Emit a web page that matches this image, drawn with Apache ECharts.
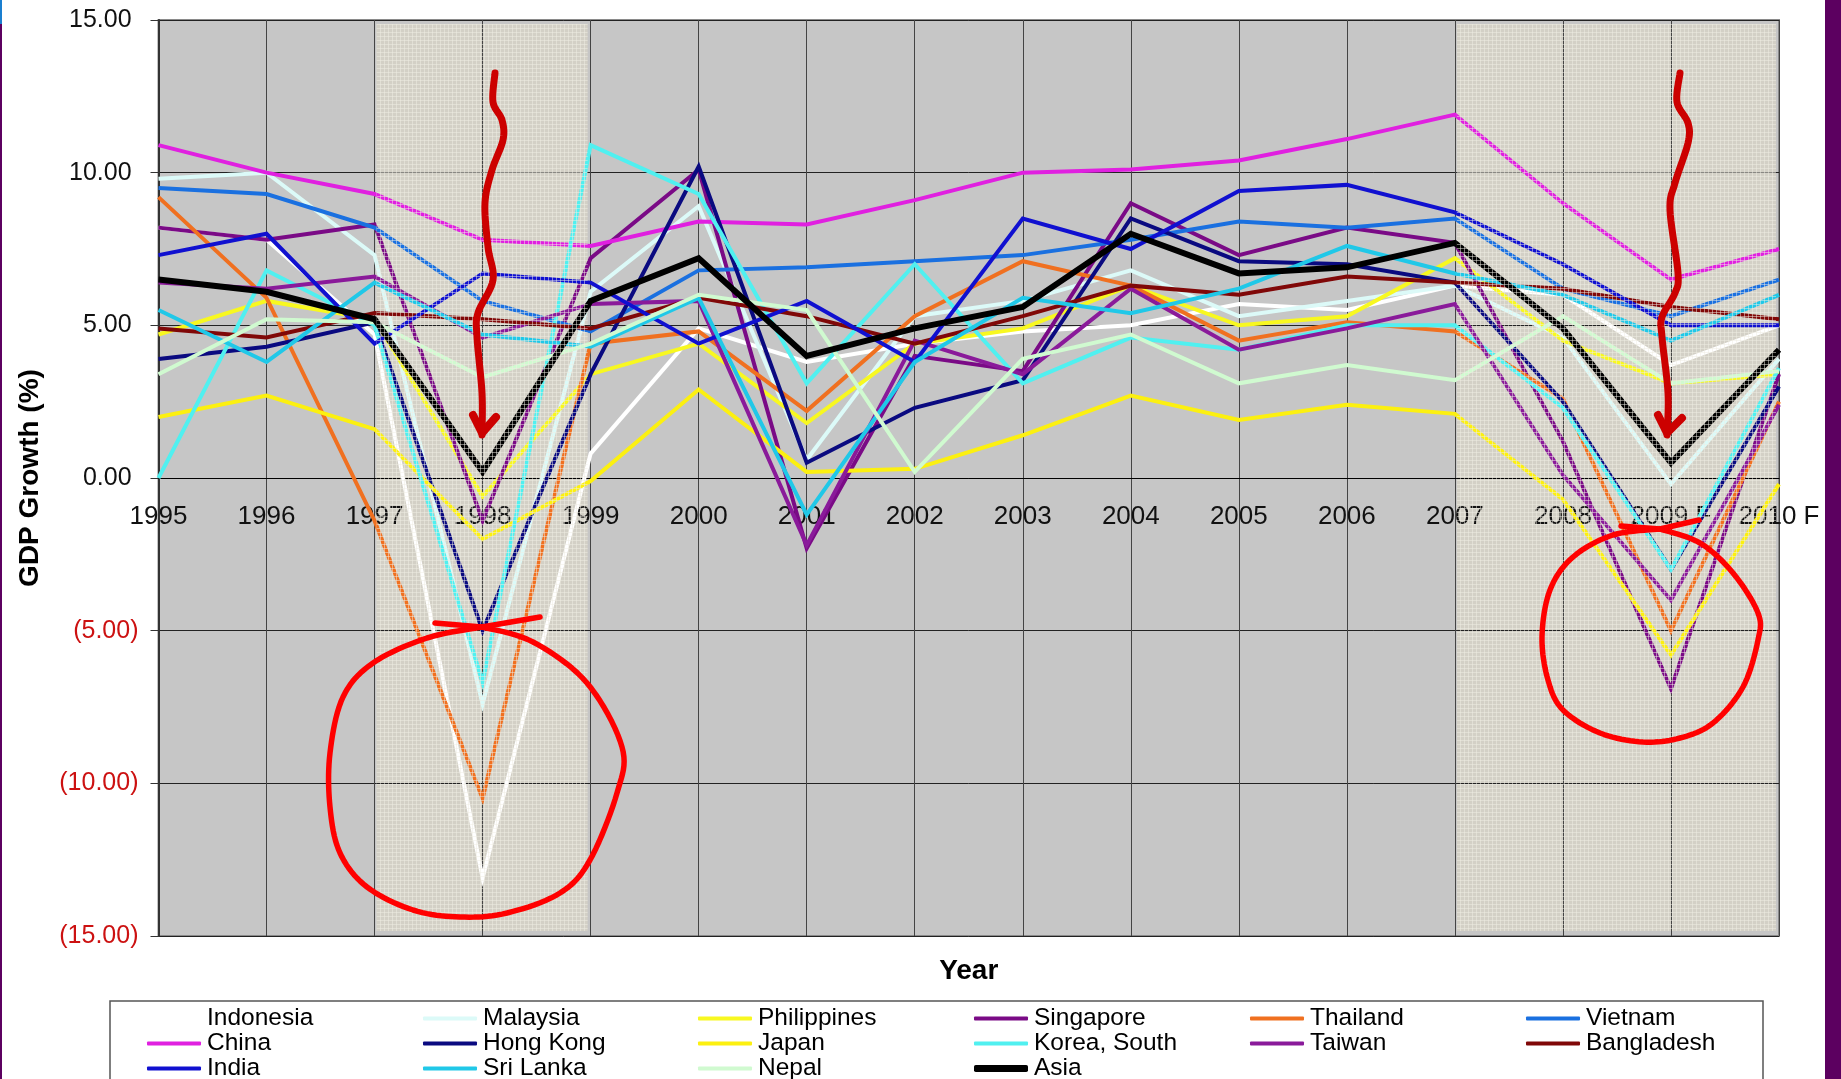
<!DOCTYPE html>
<html>
<head>
<meta charset="utf-8">
<title>GDP Growth</title>
<style>
html, body { margin: 0; padding: 0; background: #fff; overflow: hidden; }
#chart { width: 1841px; height: 1079px; }
</style>
<script src="https://cdn.jsdelivr.net/npm/echarts@6/dist/echarts.min.js"></script>
</head>
<body>
<div id="chart"></div>
<script>
var years = ['1995','1996','1997','1998','1999','2000','2001','2002','2003','2004','2005','2006','2007','2008','2009 F','2010 F'];

var indonesia   = [8.2, 7.8, 4.7, -13.1, 0.8, 4.9, 3.8, 4.4, 4.8, 5.0, 5.7, 5.5, 6.3, 6.0, 3.7, 5.0];
var malaysia    = [9.8, 10.0, 7.3, -7.4, 6.1, 8.9, 0.6, 5.3, 5.8, 6.8, 5.3, 5.8, 6.3, 4.6, -0.2, 3.9];
var philippines = [4.7, 5.8, 5.2, -0.6, 3.4, 4.4, 1.8, 4.4, 4.9, 6.3, 5.0, 5.3, 7.2, 4.5, 3.1, 3.4];
var singapore   = [8.2, 7.8, 8.3, -1.4, 7.2, 10.1, -2.3, 4.0, 3.5, 9.0, 7.3, 8.2, 7.7, 1.2, -6.9, 3.4];
var thailand    = [9.2, 5.9, -1.4, -10.5, 4.4, 4.8, 2.2, 5.3, 7.1, 6.3, 4.5, 5.1, 4.8, 2.6, -5.0, 2.5];
var vietnam     = [9.5, 9.3, 8.2, 5.8, 4.8, 6.8, 6.9, 7.1, 7.3, 7.8, 8.4, 8.2, 8.5, 6.2, 5.3, 6.5];
var china       = [10.9, 10.0, 9.3, 7.8, 7.6, 8.4, 8.3, 9.1, 10.0, 10.1, 10.4, 11.1, 11.9, 9.0, 6.5, 7.5];
var hongKong    = [3.9, 4.3, 5.1, -5.0, 3.4, 10.2, 0.5, 2.3, 3.2, 8.5, 7.1, 7.0, 6.4, 2.5, -3.0, 3.0];
var japan       = [2.0, 2.7, 1.6, -2.0, -0.1, 2.9, 0.2, 0.3, 1.4, 2.7, 1.9, 2.4, 2.1, -0.7, -5.8, -0.2];
var korea       = [0.0, 6.8, 5.0, -6.7, 10.9, 9.3, 3.1, 7.0, 3.1, 4.6, 4.2, 5.0, 5.0, 2.3, -3.0, 3.6];
var taiwan      = [6.4, 6.2, 6.6, 4.6, 5.7, 5.8, -2.2, 4.5, 3.4, 6.2, 4.2, 4.9, 5.7, 0.1, -4.0, 2.4];
var bangladesh  = [4.9, 4.6, 5.4, 5.2, 4.9, 5.9, 5.3, 4.4, 5.3, 6.3, 6.0, 6.6, 6.4, 6.2, 5.6, 5.2];
var india       = [7.3, 8.0, 4.4, 6.7, 6.4, 4.4, 5.8, 3.8, 8.5, 7.5, 9.4, 9.6, 8.7, 7.0, 5.0, 5.0];
var sriLanka    = [5.5, 3.8, 6.4, 4.7, 4.3, 5.9, -1.2, 3.8, 5.9, 5.4, 6.2, 7.6, 6.7, 6.0, 4.5, 6.0];
var nepal       = [3.4, 5.2, 5.1, 3.3, 4.4, 6.0, 5.5, 0.2, 3.9, 4.7, 3.1, 3.7, 3.2, 5.3, 3.1, 3.5];
var asia        = [6.5, 6.1, 5.2, 0.2, 5.8, 7.2, 4.0, 4.9, 5.6, 8.0, 6.7, 6.9, 7.7, 4.9, 0.5, 4.2];

var crisisYears = [['1997','1999'], ['2007','2010 F']];

// 图例按列排列，和原图一样
var legendColumns = [
	['Indonesia','China','India'],
	['Malaysia','Hong Kong','Sri Lanka'],
	['Philippines','Japan','Nepal'],
	['Singapore','Korea, South'],
	['Thailand','Taiwan'],
	['Vietnam','Bangladesh']
];
var legendLefts = [147, 423, 698, 974, 1250, 1526];

var FONT = '"Liberation Sans", Arial, sans-serif';

function lineSeries(name, data, color, width) {
	return {
		name : name,
		type : 'line',
		data : data,
		z : 2,
		symbol : 'none',
		smooth : false,
		lineStyle : { color : color, width : width || 4, join : 'miter' },
		itemStyle : { color : color }
	};
}

//危机年份的网点，半透明盖在折线上面
function bandPattern() {
	var c = document.createElement('canvas');
	c.width = 4;
	c.height = 4;
	var ctx = c.getContext('2d');
	ctx.fillStyle = 'rgba(240,238,228,0.5)';
	ctx.fillRect(0, 0, 4, 1);
	ctx.fillRect(0, 0, 1, 4);
	return { image : c, repeat : 'repeat' };
}

//底色一层放折线下面，网点一层放折线上面
function bandSeries(fill, z) {
	return {
		type : 'custom',
		z : z,
		silent : true,
		data : crisisYears,
		encode : { x : [0, 1] },
		renderItem : function(params, api) {
			var start = api.coord([api.value(0), 15]);
			var end = api.coord([api.value(1), -15]);
			return {
				type : 'rect',
				shape : {
					x : start[0] + 2,
					y : start[1] + 4,
					width : end[0] - start[0] - 5,
					height : end[1] - start[1] - 9
				},
				style : { fill : fill }
			};
		}
	};
}

//把手画标记的折点连成平滑曲线
function smoothPath(points) {
	var path = [];
	for (var i = 0; i < points.length - 1; i++) {
		var p0 = points[Math.max(i - 1, 0)];
		var p1 = points[i];
		var p2 = points[i + 1];
		var p3 = points[Math.min(i + 2, points.length - 1)];
		for (var t = 0; t < 1; t += 0.1) {
			var t2 = t * t;
			var t3 = t2 * t;
			path.push([
				0.5 * (2 * p1[0] + (p2[0] - p0[0]) * t + (2 * p0[0] - 5 * p1[0] + 4 * p2[0] - p3[0]) * t2 + (3 * p1[0] - p0[0] - 3 * p2[0] + p3[0]) * t3),
				0.5 * (2 * p1[1] + (p2[1] - p0[1]) * t + (2 * p0[1] - 5 * p1[1] + 4 * p2[1] - p3[1]) * t2 + (3 * p1[1] - p0[1] - 3 * p2[1] + p3[1]) * t3)
			]);
		}
	}
	path.push(points[points.length - 1]);
	return path;
}

//手画的红色标记
function redLine(points, width, color) {
	return {
		type : 'polyline',
		z : 100,
		silent : true,
		shape : { points : points },
		style : { stroke : color, lineWidth : width, fill : null, lineCap : 'round', lineJoin : 'round' }
	};
}

function annotations() {
	var arrowRed = '#cc0000';
	var ringRed = '#ff0000';
	return [
		redLine(smoothPath([[495,73],[493,102],[502,120],[503,140],[492,170],[485,203],[488,247],[493,280],[478,313],[477,337],[482,393],[482,435]]), 7, arrowRed),
		redLine([[473,415],[482,433],[496,417]], 8, arrowRed),
		redLine(smoothPath([[1680,73],[1677,102],[1688,123],[1688,143],[1675,183],[1670,210],[1678,273],[1675,293],[1662,317],[1662,337],[1668,393],[1667,435]]), 7, arrowRed),
		redLine([[1658,415],[1667,433],[1682,418]], 8, arrowRed),
		redLine(smoothPath([[482,627],[533,642],[587,683],[622,747],[617,793],[590,860],[560,893],[507,913],[460,917],[413,910],[367,887],[340,853],[330,807],[330,753],[343,697],[373,663],[427,638],[482,627]]), 5.5, ringRed),
		redLine([[435,623],[482,627],[540,617]], 5.5, ringRed),
		redLine(smoothPath([[1660,529],[1700,543],[1733,573],[1758,613],[1758,640],[1743,687],[1713,723],[1680,738],[1643,742],[1600,733],[1563,710],[1548,680],[1542,637],[1550,590],[1573,557],[1613,535],[1660,529]]), 5.5, ringRed),
		redLine([[1621,526],[1660,529],[1699,520]], 5.5, ringRed)
	];
}

function slideFrame() {
	return [
		{ type : 'rect', z : 0, shape : { x : 0, y : 0, width : 2, height : 1079 }, style : { fill : '#5c0060' } },
		{ type : 'rect', z : 0, shape : { x : 0, y : 0, width : 2, height : 24 }, style : { fill : '#1a7fd0' } },
		{ type : 'rect', z : 0, shape : { x : 1825, y : 0, width : 16, height : 1079 }, style : { fill : '#5c0060' } },
		{ type : 'rect', z : 0, shape : { x : 110, y : 1001, width : 1653, height : 90 }, style : { fill : 'none', stroke : '#555', lineWidth : 1.5 } }
	];
}

function legendColumn(names, left, top, markHeight) {
	return {
		orient : 'vertical',
		left : left,
		top : top,
		height : 200,
		padding : 0,
		itemGap : 0,
		itemWidth : 54,
		itemHeight : markHeight,
		icon : 'roundRect',
		data : names,
		selectedMode : false,
		textStyle : { fontFamily : FONT, fontSize : 24.5, lineHeight : 24, color : '#000', padding : [0, 0, 0, 1] }
	};
}

function buildLegends() {
	var legends = [];
	for (var i = 0; i < legendColumns.length; i++) {
		legends.push(legendColumn(legendColumns[i], legendLefts[i], 1006, 4));
	}
	//Asia的线更粗，单独一个图例
	legends.push(legendColumn(['Asia'], legendLefts[3], 1056, 7));
	return legends;
}

var chart = echarts.init(document.getElementById('chart'));
var option = {
	animation : false,
	backgroundColor : '#fff',
	grid : {
		left : 158.5,
		right : 62,
		top : 20,
		bottom : 143,
		outerBoundsMode : 'none',
		show : true,
		backgroundColor : '#c6c6c6',
		borderColor : '#8a8a8a',
		borderWidth : 2
	},
	legend : buildLegends(),
	xAxis : {
		type : 'category',
		data : years,
		boundaryGap : false,
		z : 1,
		//轴放在0.00那条线上，标签跟着轴走
		offset : -458,
		name : 'Year',
		nameLocation : 'middle',
		nameGap : 479,
		nameTextStyle : { fontFamily : FONT, fontSize : 28, fontWeight : 'bold', color : '#000' },
		axisLine : { onZero : false, lineStyle : { color : '#000', width : 1 } },
		axisTick : { show : false },
		axisLabel : { interval : 0, margin : 26, fontFamily : FONT, fontSize : 26, color : '#111' },
		splitLine : { show : true, interval : 0, lineStyle : { color : '#444', width : 1 } }
	},
	yAxis : {
		type : 'value',
		min : -15,
		max : 15,
		interval : 5,
		z : 1,
		name : 'GDP Growth (%)',
		nameLocation : 'middle',
		nameGap : 114,
		nameTextStyle : { fontFamily : FONT, fontSize : 28, fontWeight : 'bold', color : '#000' },
		axisLine : { show : true, lineStyle : { color : '#333', width : 2 } },
		axisTick : { show : true, length : 8, lineStyle : { color : '#333' } },
		axisLabel : {
			margin : 20,
			fontFamily : FONT,
			fontSize : 25,
			color : function(value) {
				return value < 0 ? '#cc1111' : '#111';
			},
			formatter : function(value) {
				var text = Math.abs(value).toFixed(2);
				return value < 0 ? '(' + text + ')' : text + '\u00a0';
			}
		},
		splitLine : { show : true, lineStyle : { color : '#222', width : 1 } }
	},
	series : [
		bandSeries('#d3d0c6', 0.5),
		lineSeries('Indonesia', indonesia, '#ffffff'),
		lineSeries('Malaysia', malaysia, '#dcfaf8'),
		lineSeries('Philippines', philippines, '#f8f820'),
		lineSeries('Singapore', singapore, '#7a0a86'),
		lineSeries('Thailand', thailand, '#f07020'),
		lineSeries('Vietnam', vietnam, '#1a70e0'),
		lineSeries('China', china, '#e020e0'),
		lineSeries('Hong Kong', hongKong, '#0a0a80'),
		lineSeries('Japan', japan, '#fcf010'),
		lineSeries('Korea, South', korea, '#50f0f0'),
		lineSeries('Taiwan', taiwan, '#8a1a9a'),
		lineSeries('Bangladesh', bangladesh, '#800808'),
		lineSeries('India', india, '#1010d0'),
		lineSeries('Sri Lanka', sriLanka, '#20c8e8'),
		lineSeries('Nepal', nepal, '#d0fad0'),
		lineSeries('Asia', asia, '#000000', 6),
		bandSeries(bandPattern(), 5)
	],
	graphic : { elements : slideFrame().concat(annotations()) }
};
chart.setOption(option);
</script>
</body>
</html>
